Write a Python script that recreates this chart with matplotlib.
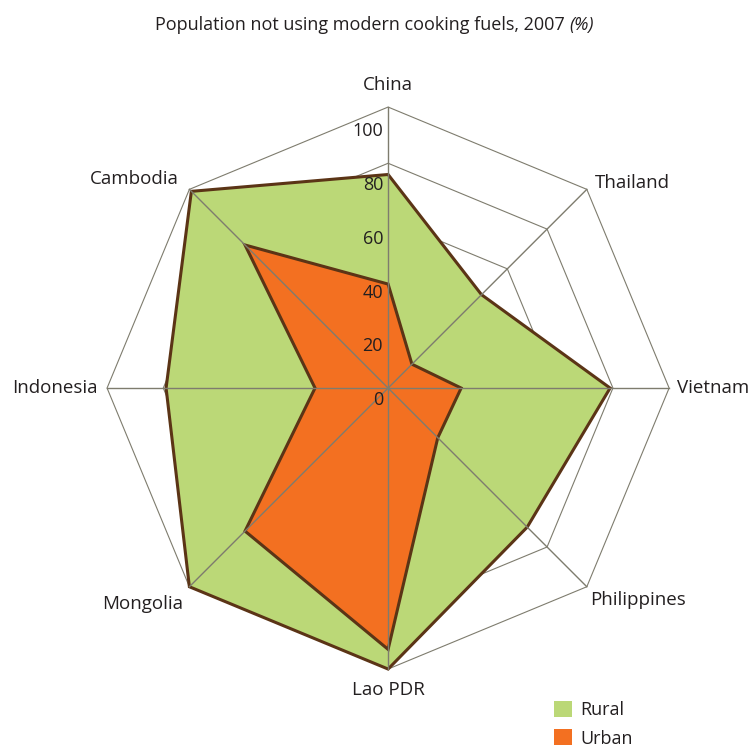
import numpy as np
import matplotlib.pyplot as plt
import matplotlib.patches as patches
from matplotlib.patches import Patch

# data
paises = ["China", "Thailand", "Vietnam", "Philippines", "Lao PDR", "Mongolia", "Indonesia", "Cambodia"]
rural = [76, 47, 79, 70, 100, 100, 79, 99]
urban = [37, 12, 26, 25, 93, 72, 26, 72]
ticks = [0, 20, 40, 60, 80, 100]

VERDE = "#BBD877"
NARANJA = "#F37021"
BORDE = "#5B3416"
GRIS = "#7E7C6E"
TEXTO = "#231F20"

plt.rcParams['font.family'] = ['Open Sans', 'DejaVu Sans']


def puntos(valores):
    ang = np.deg2rad(90 - np.arange(len(valores)) * 360.0 / len(valores))
    v = np.array(valores, dtype=float)
    return np.column_stack([v * np.cos(ang), v * np.sin(ang)])


fig = plt.figure(figsize=(7.54, 7.48), dpi=100)
ax = fig.add_axes([0, 0, 1, 1])
ax.set_xlim(-138.1, 130.2)
ax.set_ylim(-128.1, 138.1)
ax.axis('off')

# anillos de la rejilla (debajo de los rellenos)
for t in ticks[1:]:
    ax.add_patch(patches.Polygon(puntos([t] * len(paises)), closed=True, fill=False,
                                 edgecolor=GRIS, lw=0.8, zorder=1))

ax.add_patch(patches.Polygon(puntos(rural), closed=True, facecolor=VERDE,
                             edgecolor=BORDE, lw=2.2, joinstyle='miter', zorder=2))
ax.add_patch(patches.Polygon(puntos(urban), closed=True, facecolor=NARANJA,
                             edgecolor=BORDE, lw=2.2, joinstyle='miter', zorder=3))

# radios encima de los rellenos
for x, y in puntos([100] * len(paises)):
    ax.plot([0, x], [0, y], color=GRIS, lw=1.0, zorder=4)

# etiquetas del eje radial
for t in ticks:
    ax.text(-1.8, 0.957 * t - 4.3, str(t), ha='right', va='center',
            fontsize=13, color=TEXTO, zorder=5)

# etiquetas de los paises
pos = puntos([100] * len(paises))
ajustes = [
    (0, 7.8, 'center'),
    (3, 2.3, 'left'),
    (2.8, 0, 'left'),
    (1.2, -4.7, 'left'),
    (0, -7.5, 'center'),
    (-2.2, -6.2, 'right'),
    (-3.2, 0, 'right'),
    (-3.9, 3.6, 'right'),
]
for nombre, (x, y), (dx, dy, ha) in zip(paises, pos, ajustes):
    ax.text(x + dx, y + dy, nombre, ha=ha, va='center', fontsize=13.5, color=TEXTO)

# titulo con la parte en cursiva
t1 = fig.text(155 / 754, 1 - 25 / 748, "Population not using modern cooking fuels, 2007 ",
              ha='left', va='center', fontsize=13, color=TEXTO)
ax.annotate("(%)", xy=(1, 0.5), xycoords=t1, ha='left', va='center',
            fontsize=13, color=TEXTO, style='italic')

# leyenda
ax.legend(handles=[Patch(facecolor=VERDE, label='Rural'), Patch(facecolor=NARANJA, label='Urban')],
          loc='lower left', bbox_to_anchor=(547 / 754, -0.009), frameon=False,
          fontsize=13, handlelength=1.0, handleheight=1.0, handletextpad=0.45,
          labelspacing=0.55, borderaxespad=0, labelcolor=TEXTO)

fig.savefig("out.png", dpi=100)
